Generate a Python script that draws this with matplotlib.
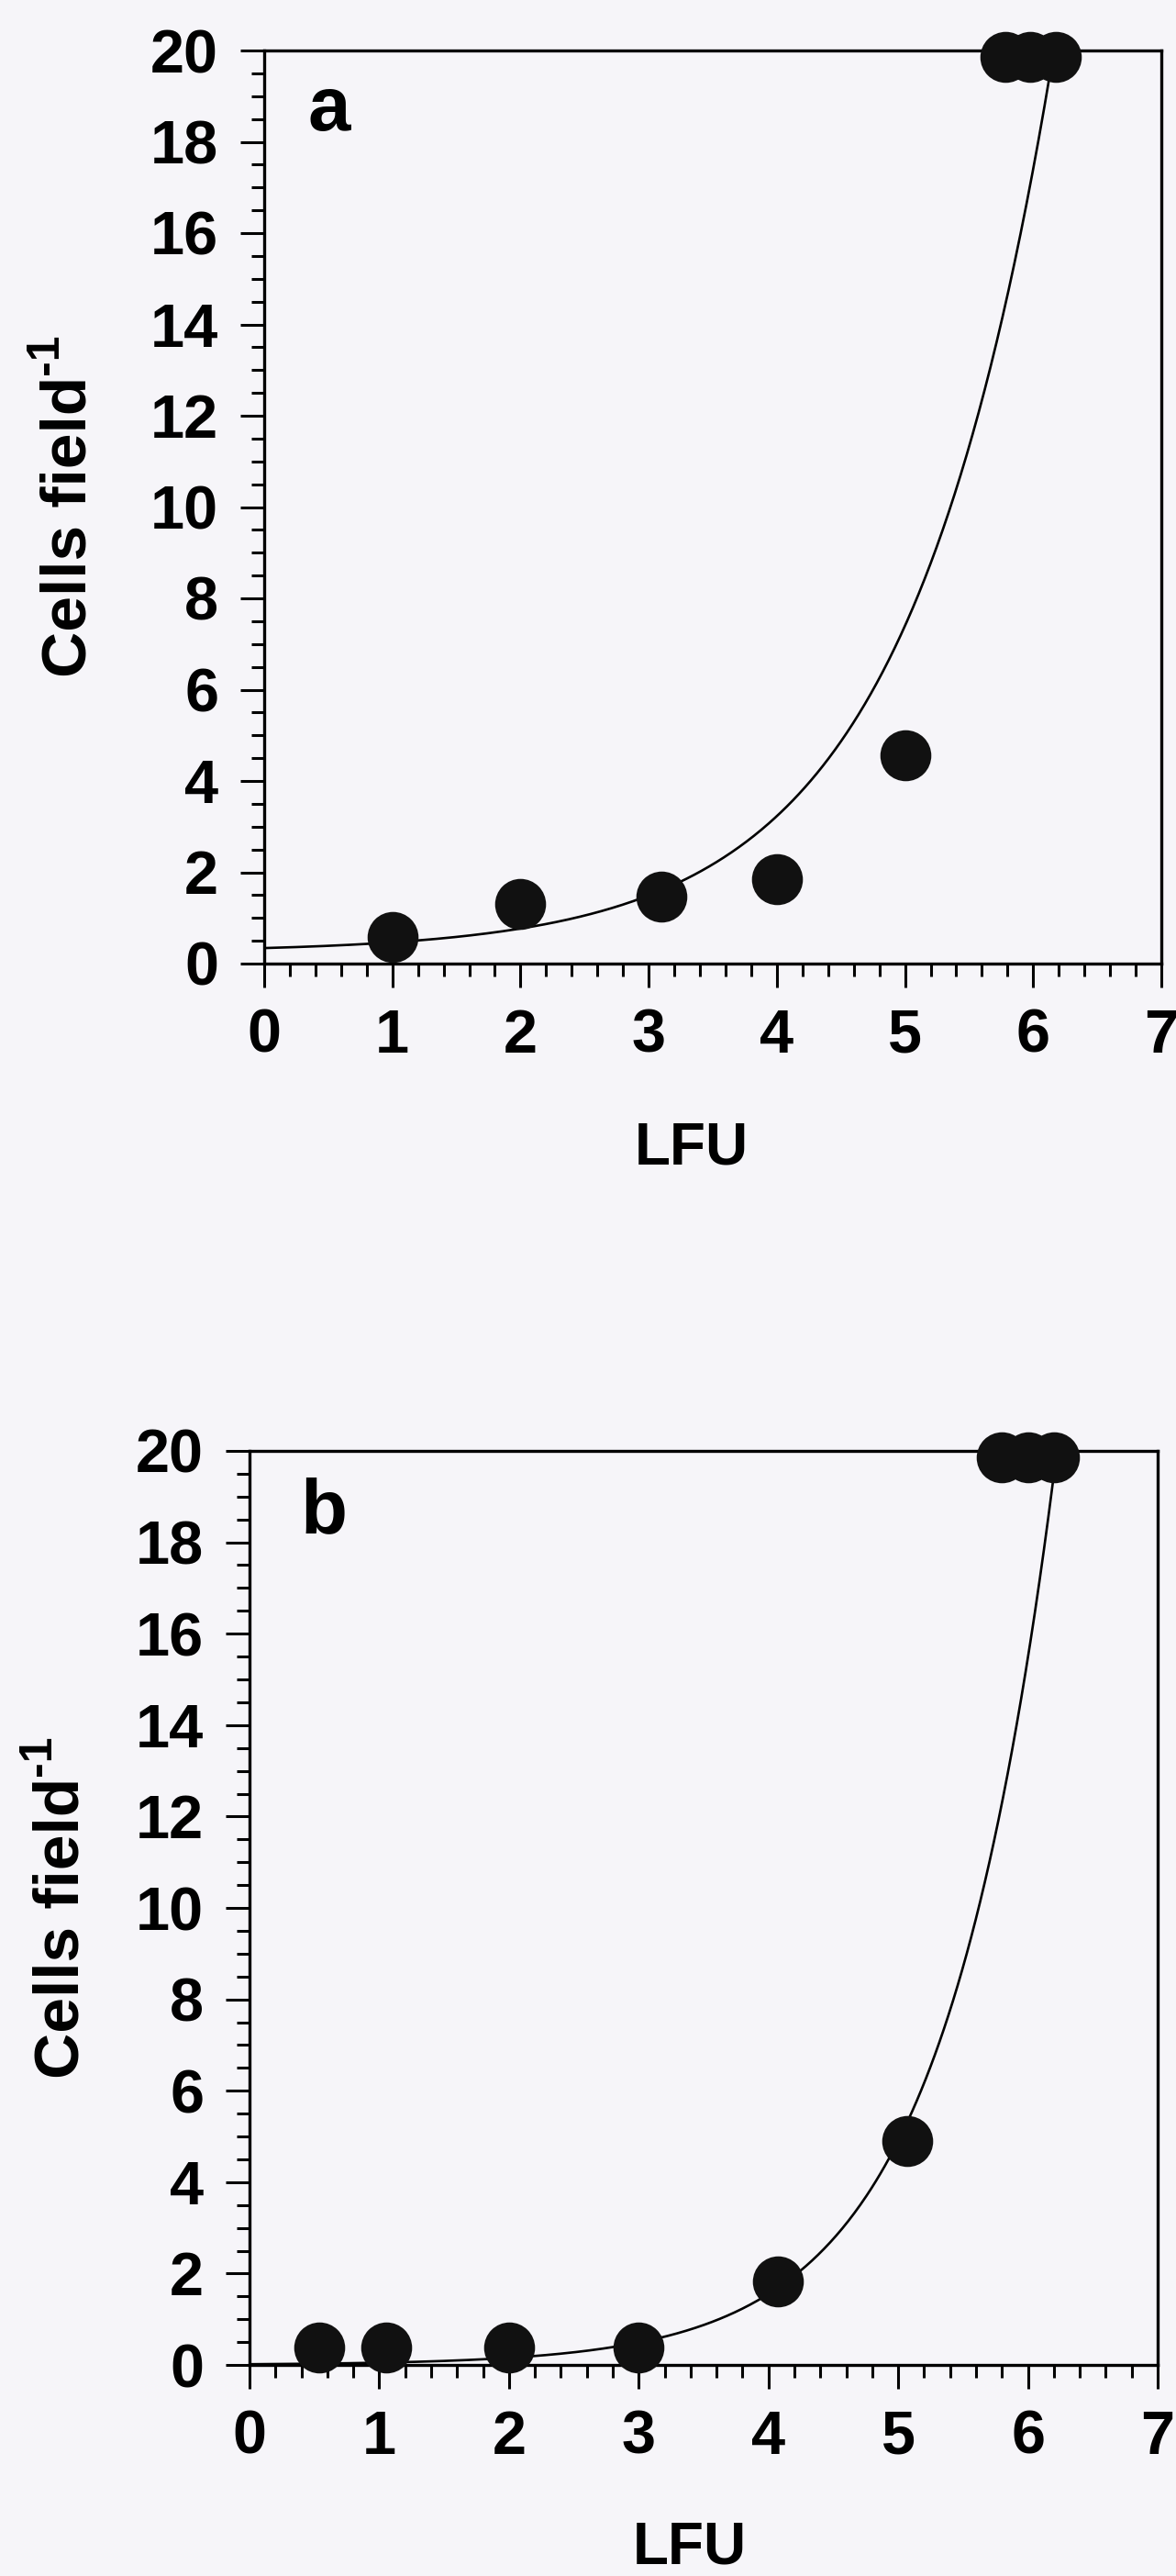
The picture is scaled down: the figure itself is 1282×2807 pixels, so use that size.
import numpy as np
import matplotlib
matplotlib.use("Agg")
import matplotlib.pyplot as plt
from matplotlib.ticker import MultipleLocator

plt.rcParams['font.family'] = ['Liberation Sans', 'DejaVu Sans']
plt.rcParams['font.weight'] = 'bold'

# ---- data ----
a_x = [1.0, 2.0, 3.1, 4.0, 5.0, 5.78, 5.98, 6.18]
a_y = [0.58, 1.31, 1.46, 1.85, 4.56, 19.86, 19.86, 19.86]
b_x = [0.54, 1.05, 2.0, 3.0, 4.07, 5.07, 5.8, 6.0, 6.2]
b_y = [0.39, 0.39, 0.39, 0.39, 1.83, 4.9, 19.86, 19.86, 19.86]

# fitted exponential curves y = offset + amp * exp(rate * x)
a_fit = dict(offset=0.25, amp=0.09, rate=0.875)
b_fit = dict(offset=0.0, amp=0.0156, rate=1.15)

x_ticks = [0, 1, 2, 3, 4, 5, 6, 7]
y_ticks = [0, 2, 4, 6, 8, 10, 12, 14, 16, 18, 20]
panel_labels = ['a', 'b']
xlabel = 'LFU'
ylabel_main = 'Cells field'
ylabel_sup = '-1'

W, H = 1282, 2807
bg = '#f6f5f9'
fig = plt.figure(figsize=(W / 100, H / 100), dpi=100, facecolor=bg)

def px_axes(left, right, top, bottom):
    return [left / W, 1 - bottom / H, (right - left) / W, (bottom - top) / H]

ax_a = fig.add_axes(px_axes(288, 1266, 55, 1050))
ax_b = fig.add_axes(px_axes(272, 1262, 1581, 2577))

FS = 48

def style(ax, xs, ys, fit):
    ax.set_facecolor(bg)
    xx = np.linspace(0, 7, 600)
    ax.plot(xx, fit['offset'] + fit['amp'] * np.exp(fit['rate'] * xx),
            color='black', lw=1.9, zorder=3)
    ax.plot(xs, ys, 'o', color='#111111', ms=40, mec='none',
            clip_on=False, zorder=4)
    ax.set_xlim(0, 7)
    ax.set_ylim(0, 20)
    ax.set_xticks(x_ticks)
    ax.set_yticks(y_ticks)
    ax.xaxis.set_minor_locator(MultipleLocator(0.2))
    ax.yaxis.set_minor_locator(MultipleLocator(0.5))
    ax.tick_params(which='major', direction='out', length=19, width=2.2,
                   labelsize=FS)
    ax.tick_params(axis='y', which='major', pad=17)
    ax.tick_params(axis='x', which='major', pad=16)
    ax.tick_params(which='minor', direction='out', length=10, width=2.2)
    for lab in ax.get_xticklabels() + ax.get_yticklabels():
        lab.set_fontweight('bold')
    for s in ax.spines.values():
        s.set_linewidth(2.4)

style(ax_a, a_x, a_y, a_fit)
style(ax_b, b_x, b_y, b_fit)

def fx(px):
    return px / W

def fy(py):
    return 1 - py / H

# panel letters
fig.text(fx(335), fy(142), panel_labels[0], fontsize=60, fontweight='bold',
         ha='left', va='baseline')
fig.text(fx(327), fy(1670), panel_labels[1], fontsize=60, fontweight='bold',
         ha='left', va='baseline')

# x labels
fig.text(fx(754), fy(1251), xlabel, fontsize=46, fontweight='bold',
         ha='center', va='center')
fig.text(fx(752), fy(2776), xlabel, fontsize=46, fontweight='bold',
         ha='center', va='center')

# y labels with superscript
YFS = 50
def ylabel(xc, yc):
    t = fig.text(fx(xc), fy(yc + 22), ylabel_main, rotation=90, fontsize=YFS,
                 fontweight='bold', ha='center', va='center')
    fig.canvas.draw()
    bb = t.get_window_extent()
    inv = fig.transFigure.inverted()
    x0, y1 = inv.transform((bb.x0 - 16, bb.y1 + 2))
    fig.text(x0, y1, ylabel_sup, rotation=90, fontsize=YFS * 0.72,
             fontweight='bold', ha='left', va='bottom')

ylabel(75, 552)
ylabel(67, 2079)

fig.savefig('out.png', dpi=100, facecolor=bg)
